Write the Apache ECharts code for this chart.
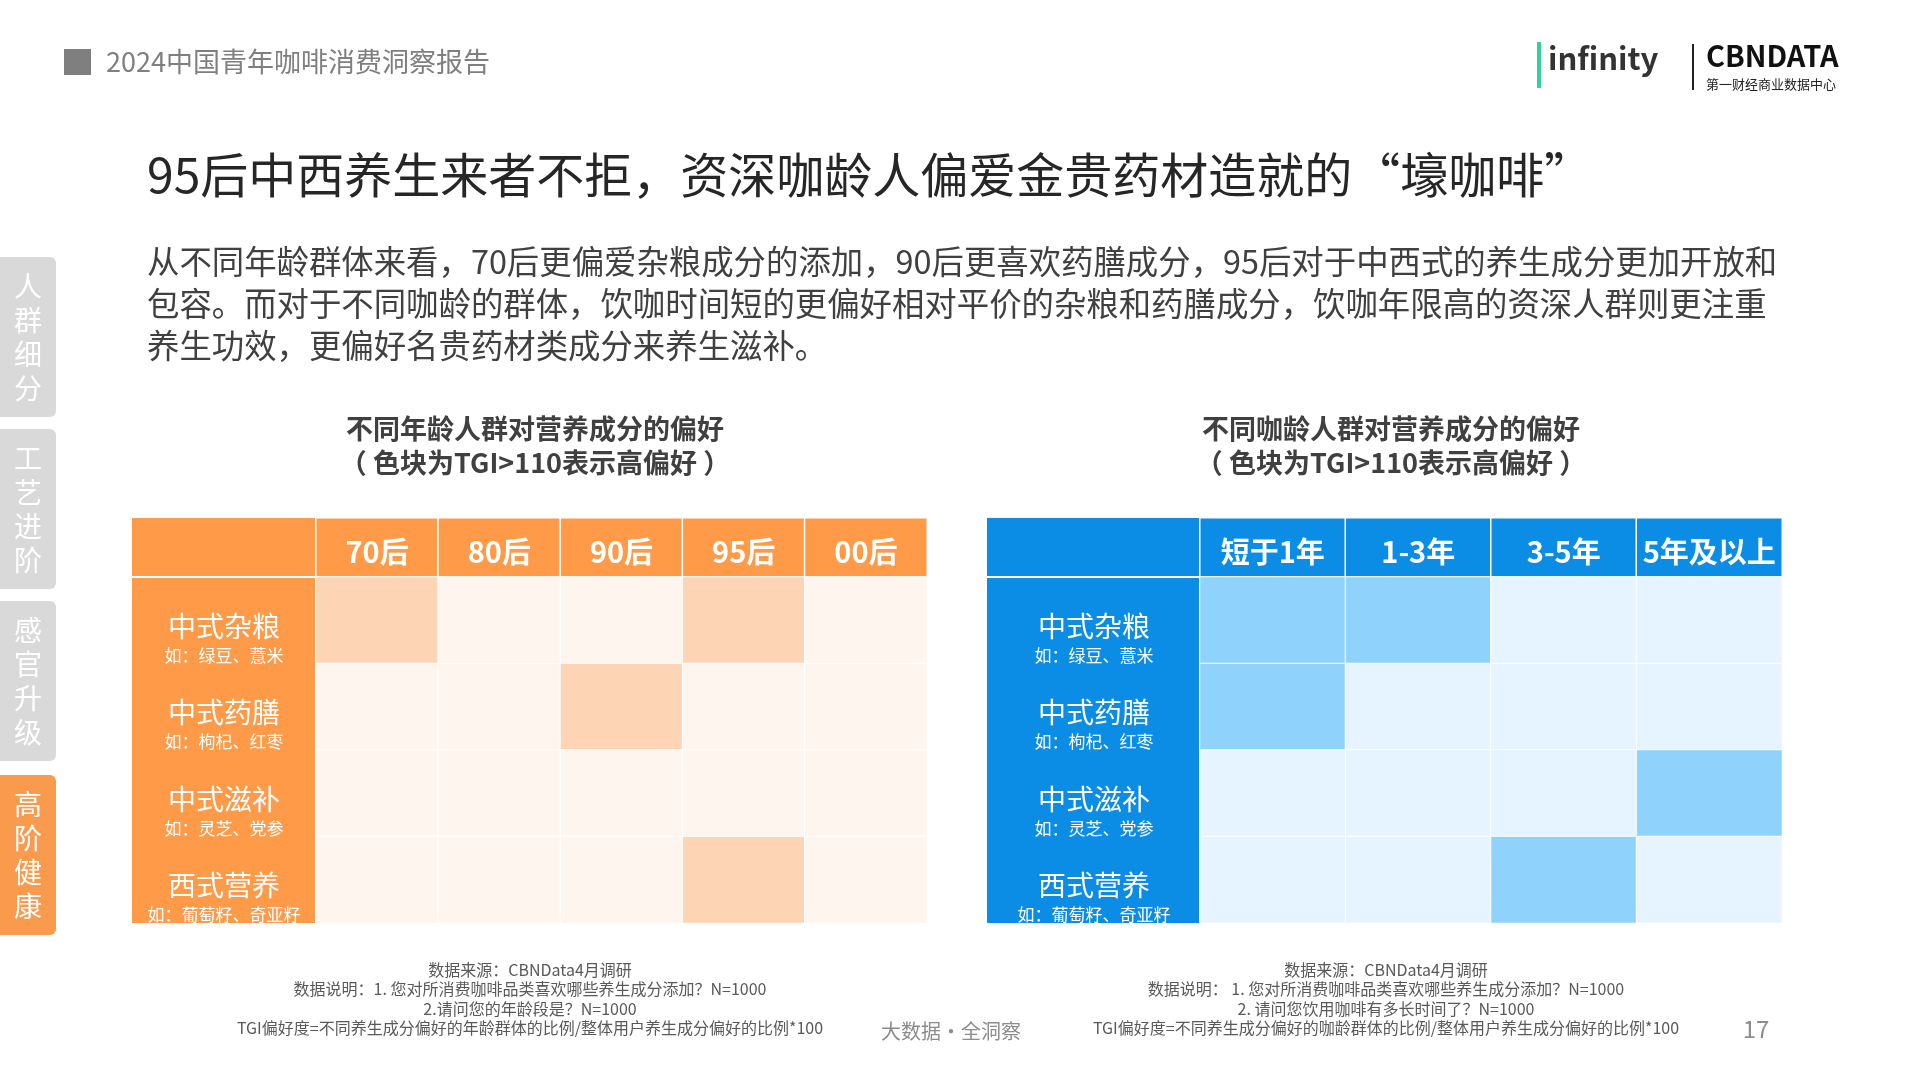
<!DOCTYPE html>
<html>
<head>
<meta charset="utf-8">
<script src="https://cdn.jsdelivr.net/npm/echarts@6/dist/echarts.min.js"></script>
<style>
  html, body { margin: 0; padding: 0; background: #fff; }
  #main { width: 1920px; height: 1080px; }
</style>
</head>
<body>
<div id="main"></div>
<script>
const ageCols = ['70后', '80后', '90后', '95后', '00后']
const tenureCols = ['短于1年', '1-3年', '3-5年', '5年及以上']
const rowNames = ['中式杂粮', '中式药膳', '中式滋补', '西式营养']
const rowExamples = ['如：绿豆、薏米', '如：枸杞、红枣', '如：灵芝、党参', '如：葡萄籽、奇亚籽']
// 1 = TGI>110 高偏好, 0 = 其他
const ageHigh = [
  [1, 0, 0, 1, 0],
  [0, 0, 1, 0, 0],
  [0, 0, 0, 0, 0],
  [0, 0, 0, 1, 0]
]
const tenureHigh = [
  [1, 1, 0, 0],
  [1, 0, 0, 0],
  [0, 0, 0, 1],
  [0, 0, 1, 0]
]
const sideTabs = ['人群细分', '工艺进阶', '感官升级', '高阶健康']

const FONT = '"Noto Sans CJK SC", "Noto Sans", sans-serif'
const chart = echarts.init(document.getElementById('main'))

// grids 0/1: header rows, grids 2/3: body cells
function headerSeries(idx, cols) {
  return {
    type: 'heatmap',
    xAxisIndex: idx,
    yAxisIndex: idx,
    data: cols.map((c, i) => [i, 0, 2]),
    label: {
      show: true,
      formatter: p => cols[p.data[0]],
      color: '#fff',
      fontSize: 29,
      fontWeight: 'bold',
      fontFamily: FONT,
      offset: [0, 4]
    },
    itemStyle: { borderColor: '#fff', borderWidth: 1.5 },
    emphasis: { disabled: true }
  }
}

function bodySeries(idx, matrix) {
  const data = []
  matrix.forEach((row, r) => row.forEach((v, i) => data.push([i, r, v])))
  return {
    type: 'heatmap',
    xAxisIndex: idx,
    yAxisIndex: idx,
    data,
    itemStyle: { borderColor: '#fff', borderWidth: 1 },
    emphasis: { disabled: true }
  }
}

function xAxisFor(idx, cols) {
  return {
    type: 'category', gridIndex: idx, data: cols,
    axisLine: { show: false }, axisTick: { show: false }, axisLabel: { show: false }
  }
}

function yHeader(idx) {
  return {
    type: 'category', gridIndex: idx, data: ['h'],
    axisLine: { show: false }, axisTick: { show: false }, axisLabel: { show: false }
  }
}

function yBody(idx, margin) {
  return {
    type: 'category',
    gridIndex: idx,
    data: rowNames,
    inverse: true,
    axisLine: { show: false },
    axisTick: { show: false },
    axisLabel: {
      align: 'center',
      margin,
      padding: [34, 0, 0, 0],
      formatter: v => '{a|' + v + '}\n{b|' + rowExamples[rowNames.indexOf(v)] + '}',
      rich: {
        a: { color: '#fff', fontSize: 28, fontFamily: FONT, lineHeight: 36 },
        b: { color: '#fff', fontSize: 17, fontFamily: FONT, lineHeight: 22 }
      }
    }
  }
}

const sideGraphics = sideTabs.map((t, i) => ({
  type: 'group',
  left: 0,
  top: [257, 429, 601, 775][i],
  children: [
    { type: 'rect', shape: { x: 0, y: 0, width: 56, height: 160, r: [0, 6, 6, 0] },
      style: { fill: i === 3 ? '#fa9a4c' : '#d9d9d9' } },
    { type: 'text', x: 28, y: 80,
      style: { text: t.split('').join('\n'), fill: '#fff', font: '28px ' + FONT,
        align: 'center', verticalAlign: 'middle', lineHeight: 34 } }
  ]
}))

function footnote(cx, lines) {
  return {
    type: 'text', x: cx, y: 960,
    style: { text: lines.join('\n'), fill: '#595959', font: '16px ' + FONT,
      align: 'center', lineHeight: 19.5 }
  }
}

const option = {
  backgroundColor: '#fff',
  grid: [
    { left: 316, top: 518, width: 611, height: 59 },
    { left: 1200, top: 518, width: 582, height: 59 },
    { left: 316, top: 577, width: 611, height: 346 },
    { left: 1200, top: 577, width: 582, height: 346 }
  ],
  xAxis: [xAxisFor(0, ageCols), xAxisFor(1, tenureCols), xAxisFor(2, ageCols), xAxisFor(3, tenureCols)],
  yAxis: [yHeader(0), yHeader(1), yBody(2, 92), yBody(3, 106)],
  visualMap: [
    { type: 'piecewise', show: false, seriesIndex: [0, 2], dimension: 2,
      pieces: [{ value: 0, color: '#fef5ee' }, { value: 1, color: '#fdd5b4' }, { value: 2, color: '#fe9a48' }] },
    { type: 'piecewise', show: false, seriesIndex: [1, 3], dimension: 2,
      pieces: [{ value: 0, color: '#e5f4fe' }, { value: 1, color: '#8fd2fb' }, { value: 2, color: '#0b8de6' }] }
  ],
  series: [
    headerSeries(0, ageCols), headerSeries(1, tenureCols),
    bodySeries(2, ageHigh), bodySeries(3, tenureHigh)
  ],
  graphic: [
    // header bar
    { type: 'rect', shape: { x: 64, y: 49, width: 27, height: 26 }, style: { fill: '#7f7f7f' } },
    { type: 'text', x: 106, y: 62, style: { text: '2024中国青年咖啡消费洞察报告', fill: '#7f7f7f',
      font: '27px ' + FONT, verticalAlign: 'middle' } },
    // logos
    { type: 'text', x: 1548, y: 58, style: { text: 'infinity', fill: '#333', font: 'bold 31px ' + FONT, verticalAlign: 'middle' } },
    { type: 'rect', shape: { x: 1537, y: 42, width: 4, height: 46 }, style: { fill: '#2ed39a' } },
    { type: 'rect', shape: { x: 1692, y: 44, width: 2, height: 46 }, style: { fill: '#222' } },
    { type: 'text', x: 1706, y: 56, style: { text: 'CBNDATA', fill: '#111', font: 'bold 29px ' + FONT, verticalAlign: 'middle' } },
    { type: 'text', x: 1706, y: 84, style: { text: '第一财经商业数据中心', fill: '#222', font: '13px ' + FONT, verticalAlign: 'middle' } },
    // title & intro
    { type: 'text', x: 147, y: 175, style: { text: '95后中西养生来者不拒，资深咖龄人偏爱金贵药材造就的“壕咖啡”',
      fill: '#262626', font: '48px ' + FONT, verticalAlign: 'middle' } },
    { type: 'text', x: 147, y: 241, style: { text:
      '从不同年龄群体来看，70后更偏爱杂粮成分的添加，90后更喜欢药膳成分，95后对于中西式的养生成分更加开放和\n' +
      '包容。而对于不同咖龄的群体，饮咖时间短的更偏好相对平价的杂粮和药膳成分，饮咖年限高的资深人群则更注重\n' +
      '养生功效，更偏好名贵药材类成分来养生滋补。',
      fill: '#404040', font: '32.4px ' + FONT, lineHeight: 42 } },
    // chart subtitles
    { type: 'text', x: 535, y: 446, style: { text: '不同年龄人群对营养成分的偏好\n（ 色块为TGI>110表示高偏好 ）',
      fill: '#404040', font: 'bold 27px ' + FONT, align: 'center', verticalAlign: 'middle', lineHeight: 34 } },
    { type: 'text', x: 1391, y: 446, style: { text: '不同咖龄人群对营养成分的偏好\n（ 色块为TGI>110表示高偏好 ）',
      fill: '#404040', font: 'bold 27px ' + FONT, align: 'center', verticalAlign: 'middle', lineHeight: 34 } },
    // row label columns
    { type: 'rect', z: -1, shape: { x: 132, y: 518, width: 183, height: 58 }, style: { fill: '#fe9a48' } },
    { type: 'rect', z: -1, shape: { x: 132, y: 578, width: 183, height: 345 }, style: { fill: '#fe9a48' } },
    { type: 'rect', z: -1, shape: { x: 987, y: 518, width: 212, height: 58 }, style: { fill: '#0b8de6' } },
    { type: 'rect', z: -1, shape: { x: 987, y: 578, width: 212, height: 345 }, style: { fill: '#0b8de6' } },
    // footnotes
    footnote(530, ['数据来源：CBNData4月调研', '数据说明：1. 您对所消费咖啡品类喜欢哪些养生成分添加？N=1000',
      '2.请问您的年龄段是？N=1000', 'TGI偏好度=不同养生成分偏好的年龄群体的比例/整体用户养生成分偏好的比例*100']),
    footnote(1386, ['数据来源：CBNData4月调研', '数据说明： 1. 您对所消费咖啡品类喜欢哪些养生成分添加？N=1000',
      '2. 请问您饮用咖啡有多长时间了？N=1000', 'TGI偏好度=不同养生成分偏好的咖龄群体的比例/整体用户养生成分偏好的比例*100']),
    { type: 'text', x: 951, y: 1031, style: { text: '大数据·全洞察', fill: '#8c8c8c', font: '20px ' + FONT, align: 'center', verticalAlign: 'middle' } },
    { type: 'text', x: 1756, y: 1029, style: { text: '17', fill: '#8c8c8c', font: '24px ' + FONT, align: 'center', verticalAlign: 'middle' } }
  ].concat(sideGraphics)
}

chart.setOption(option)
</script>
</body>
</html>
